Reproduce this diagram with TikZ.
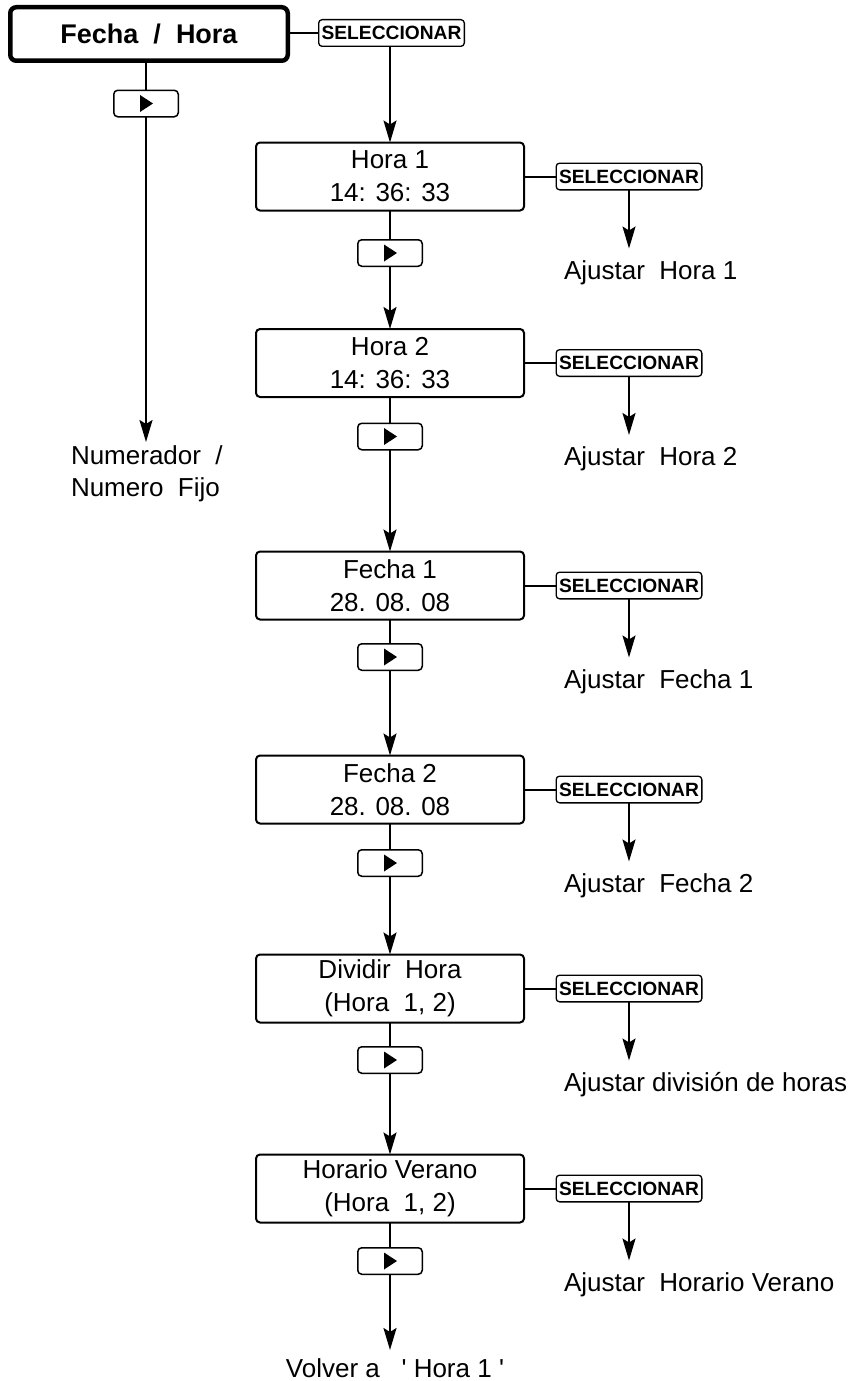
\documentclass[tikz,border=0pt]{standalone}
\usepackage{fontspec}
\setmainfont{Liberation Sans}
\usetikzlibrary{arrows.meta}
\newcommand\playtri[1]{\fill ([xshift=-6pt,yshift=8.5pt]#1.center) -- ([xshift=-6pt,yshift=-8.5pt]#1.center) -- ([xshift=7pt]#1.center) -- cycle;}
\begin{document}
\begin{tikzpicture}[x=1pt,y=-1pt,
  every node/.style={inner sep=0pt, outer sep=0pt},
  mainbox/.style={draw, line width=2pt, rounded corners=4pt, minimum width=268pt, minimum height=68pt, align=center, font=\fontsize{26}{33}\selectfont},
  fhbox/.style={draw, line width=4.5pt, rounded corners=6pt, minimum width=277.5pt, minimum height=53.5pt, font=\bfseries\fontsize{27}{30}\selectfont},
  selbox/.style={draw, line width=1.3pt, rounded corners=3.5pt, minimum width=145.7pt, minimum height=26.7pt, font=\bfseries\fontsize{19.2}{20}\selectfont},
  btn/.style={draw, line width=1.5pt, rounded corners=4pt, minimum width=64.5pt, minimum height=26.5pt},
  lbl/.style={font=\fontsize{26}{32}\selectfont},
  conn/.style={line width=2pt},
  arr/.style={line width=2pt, -{Stealth[length=22pt,width=13pt,inset=4pt]}},
]
\useasboundingbox (0,0) rectangle (862,1381);

% left column
\node[fhbox] (fh) at (149,34) {Fecha\ \ /\ \ Hora};
\node[selbox] (s0) at (391.5,33) {SELECCIONAR};
\node[btn] (b0) at (146,103.5) {};
\playtri{b0}
\coordinate (t0) at (146,442);
\node[lbl,anchor=west,align=left] (num) at (71,474) {Numerador\ \ /\\Numero\ \ Fijo};

% main column
\node[mainbox] (h1) at (390,176.5) {Hora 1\\14: 36: 33};
\node[btn] (b1) at (390,253) {};
\node[mainbox] (h2) at (390,363) {Hora 2\\14: 36: 33};
\node[btn] (b2) at (390,436.5) {};
\node[mainbox] (f1) at (390,585.5) {Fecha 1\\28. 08. 08};
\node[btn] (b3) at (390,657) {};
\node[mainbox] (f2) at (390,789.5) {Fecha 2\\28. 08. 08};
\node[btn] (b4) at (390,863) {};
\node[mainbox] (dv) at (390,988.5) {Dividir\ \ Hora\\(Hora\ \ 1, 2)};
\node[btn] (b5) at (390,1060) {};
\node[mainbox] (hv) at (390,1188.5) {Horario Verano\\(Hora\ \ 1, 2)};
\node[btn] (b6) at (390,1261) {};
\coordinate (t7) at (390,1350);
\node[lbl] (volver) at (395,1368) {Volver a\ \ \ \textquotesingle\ Hora 1 \textquotesingle};
\foreach \b in {b1,b2,b3,b4,b5,b6} {\playtri{\b}}

% right column
\node[selbox] (s1) at (629,176.5) {SELECCIONAR};
\node[selbox] (s2) at (629,363) {SELECCIONAR};
\node[selbox] (s3) at (629,585.5) {SELECCIONAR};
\node[selbox] (s4) at (629,789.5) {SELECCIONAR};
\node[selbox] (s5) at (629,988.5) {SELECCIONAR};
\node[selbox] (s6) at (629,1188.5) {SELECCIONAR};
\coordinate (t1) at (629,248.5);
\coordinate (t2) at (629,435);
\coordinate (t3) at (629,657.5);
\coordinate (t4) at (629,861.5);
\coordinate (t5) at (629,1060.5);
\coordinate (t6) at (629,1260.5);
\node[lbl,anchor=west] (a1) at (564,272.5) {Ajustar\ \ Hora 1};
\node[lbl,anchor=west] (a2) at (564,459) {Ajustar\ \ Hora 2};
\node[lbl,anchor=west] (a3) at (564,681.5) {Ajustar\ \ Fecha 1};
\node[lbl,anchor=west] (a4) at (564,885.5) {Ajustar\ \ Fecha 2};
\node[lbl,anchor=west] (a5) at (564,1084.5) {Ajustar división de horas};
\node[lbl,anchor=west] (a6) at (564,1284.5) {Ajustar\ \ Horario Verano};

% connectors
\draw[conn] (fh.east |- s0.west) -- (s0.west);
\draw[arr] (s0.south -| h1.north) -- (h1.north);
\draw[conn] (b0.north |- fh.south) -- (b0.north);
\draw[arr] (b0.south) -- (t0);

\draw[conn] (h1.south) -- (b1.north);
\draw[arr] (b1.south) -- (h2.north);
\draw[conn] (h2.south) -- (b2.north);
\draw[arr] (b2.south) -- (f1.north);
\draw[conn] (f1.south) -- (b3.north);
\draw[arr] (b3.south) -- (f2.north);
\draw[conn] (f2.south) -- (b4.north);
\draw[arr] (b4.south) -- (dv.north);
\draw[conn] (dv.south) -- (b5.north);
\draw[arr] (b5.south) -- (hv.north);
\draw[conn] (hv.south) -- (b6.north);
\draw[arr] (b6.south) -- (t7);

\draw[conn] (h1.east) -- (s1.west);
\draw[conn] (h2.east) -- (s2.west);
\draw[conn] (f1.east) -- (s3.west);
\draw[conn] (f2.east) -- (s4.west);
\draw[conn] (dv.east) -- (s5.west);
\draw[conn] (hv.east) -- (s6.west);
\draw[arr] (s1.south) -- (t1);
\draw[arr] (s2.south) -- (t2);
\draw[arr] (s3.south) -- (t3);
\draw[arr] (s4.south) -- (t4);
\draw[arr] (s5.south) -- (t5);
\draw[arr] (s6.south) -- (t6);
\end{tikzpicture}
\end{document}
